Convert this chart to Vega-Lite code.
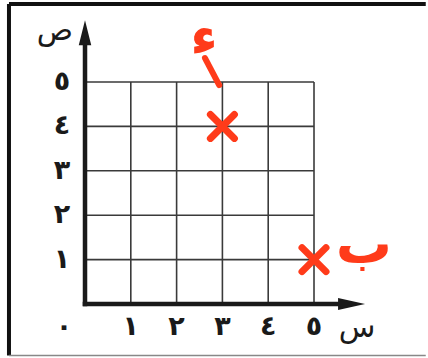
{
  "$schema": "https://vega.github.io/schema/vega-lite/v6.json",
  "width": 428,
  "height": 358,
  "autosize": {"type": "fit", "contains": "padding"},
  "padding": 0,
  "background": "white",
  "config": {"view": {"stroke": null}},
  "datasets": {
    "grid": [
      {"x": 1, "y": 0, "x2": 1, "y2": 5},
      {"x": 2, "y": 0, "x2": 2, "y2": 5},
      {"x": 3, "y": 0, "x2": 3, "y2": 5},
      {"x": 4, "y": 0, "x2": 4, "y2": 5},
      {"x": 5, "y": 0, "x2": 5, "y2": 5},
      {"x": 0, "y": 1, "x2": 5, "y2": 1},
      {"x": 0, "y": 2, "x2": 5, "y2": 2},
      {"x": 0, "y": 3, "x2": 5, "y2": 3},
      {"x": 0, "y": 4, "x2": 5, "y2": 4},
      {"x": 0, "y": 5, "x2": 5, "y2": 5}
    ],
    "axes": [
      {"x": -0.05, "y": 0, "x2": 5.7, "y2": 0},
      {"x": 0, "y": -0.05, "x2": 0, "y2": 5.95}
    ],
    "border": [
      {"x": -1.66, "y": 6.757, "x2": 7.44, "y2": 6.757, "w": 4, "c": "#111111"},
      {"x": -1.66, "y": 6.757, "x2": -1.66, "y2": -1.16, "w": 4, "c": "#111111"},
      {"x": -1.66, "y": -1.16, "x2": 7.44, "y2": -1.16, "w": 1.5, "c": "#888888"}
    ],
    "digits": [
      {"x": 1, "y": -0.52, "t": "١"},
      {"x": 2, "y": -0.52, "t": "٢"},
      {"x": 3, "y": -0.52, "t": "٣"},
      {"x": 4, "y": -0.52, "t": "٤"},
      {"x": 5, "y": -0.52, "t": "٥"},
      {"x": -0.46, "y": -0.52, "t": "٠"},
      {"x": -0.5, "y": 1, "t": "١"},
      {"x": -0.5, "y": 2, "t": "٢"},
      {"x": -0.5, "y": 3, "t": "٣"},
      {"x": -0.5, "y": 4, "t": "٤"},
      {"x": -0.5, "y": 5, "t": "٥"}
    ],
    "letters": [
      {"x": 5.94, "y": -0.54, "t": "س"},
      {"x": -0.655, "y": 6.15, "t": "ص"}
    ],
    "points": [
      {"x": 3, "y": 4, "name": "أ"},
      {"x": 5, "y": 1, "name": "ب"}
    ]
  },
  "encoding": {
    "x": {"field": "x", "type": "quantitative", "scale": {"domain": [-1.856, 7.489], "zero": false, "nice": false}, "axis": null},
    "y": {"field": "y", "type": "quantitative", "scale": {"domain": [-1.216, 6.847], "zero": false, "nice": false}, "axis": null}
  },
  "layer": [
    {
      "data": {"name": "border"},
      "mark": {"type": "rule"},
      "encoding": {
        "x2": {"field": "x2"},
        "y2": {"field": "y2"},
        "strokeWidth": {"field": "w", "type": "quantitative", "scale": null},
        "color": {"field": "c", "type": "nominal", "scale": null}
      }
    },
    {
      "data": {"name": "grid"},
      "mark": {"type": "rule", "color": "#3a3a3a", "strokeWidth": 1.6},
      "encoding": {"x2": {"field": "x2"}, "y2": {"field": "y2"}}
    },
    {
      "data": {"name": "axes"},
      "mark": {"type": "rule", "color": "#1a1a1a", "strokeWidth": 4.5},
      "encoding": {"x2": {"field": "x2"}, "y2": {"field": "y2"}}
    },
    {
      "data": {"values": [{"x": 5.82, "y": 0}]},
      "mark": {"type": "point", "filled": true, "color": "#1a1a1a", "opacity": 1, "size": 729, "shape": "M-1,-0.45L1,0L-1,0.45Z"},
      "encoding": {}
    },
    {
      "data": {"values": [{"x": 0, "y": 6.11}]},
      "mark": {"type": "point", "filled": true, "color": "#1a1a1a", "opacity": 1, "size": 625, "shape": "M0,-1L0.5,1L-0.5,1Z"},
      "encoding": {}
    },
    {
      "data": {"name": "digits"},
      "mark": {"type": "text", "font": "DejaVu Sans", "fontWeight": "bold", "fontSize": 27, "color": "#1a1a1a", "align": "center", "baseline": "middle"},
      "encoding": {"text": {"field": "t"}}
    },
    {
      "data": {"name": "letters"},
      "mark": {"type": "text", "font": "DejaVu Sans", "fontWeight": "normal", "fontSize": 30, "color": "#1a1a1a", "align": "center", "baseline": "middle"},
      "encoding": {"text": {"field": "t"}}
    },
    {
      "data": {"name": "points"},
      "mark": {"type": "point", "filled": false, "color": "#ff3b1a", "opacity": 1, "strokeWidth": 7, "strokeCap": "round", "size": 576, "shape": "M-1,-1L1,1M-1,1L1,-1"},
      "encoding": {}
    },
    {
      "data": {"values": [{"x": 2.62, "y": 5.54, "x2": 2.93, "y2": 4.93}]},
      "mark": {"type": "rule", "color": "#ff3b1a", "strokeWidth": 6, "strokeCap": "round"},
      "encoding": {"x2": {"field": "x2"}, "y2": {"field": "y2"}}
    },
    {
      "data": {"values": [{"x": 2.6, "y": 5.97, "t": "ء", "s": 54}, {"x": 6.09, "y": 1.31, "t": "ب", "s": 56}]},
      "mark": {"type": "text", "font": "DejaVu Sans", "fontWeight": "bold", "color": "#ff3b1a", "align": "center", "baseline": "middle"},
      "encoding": {"text": {"field": "t"}, "size": {"field": "s", "type": "quantitative", "scale": null}}
    }
  ]
}
